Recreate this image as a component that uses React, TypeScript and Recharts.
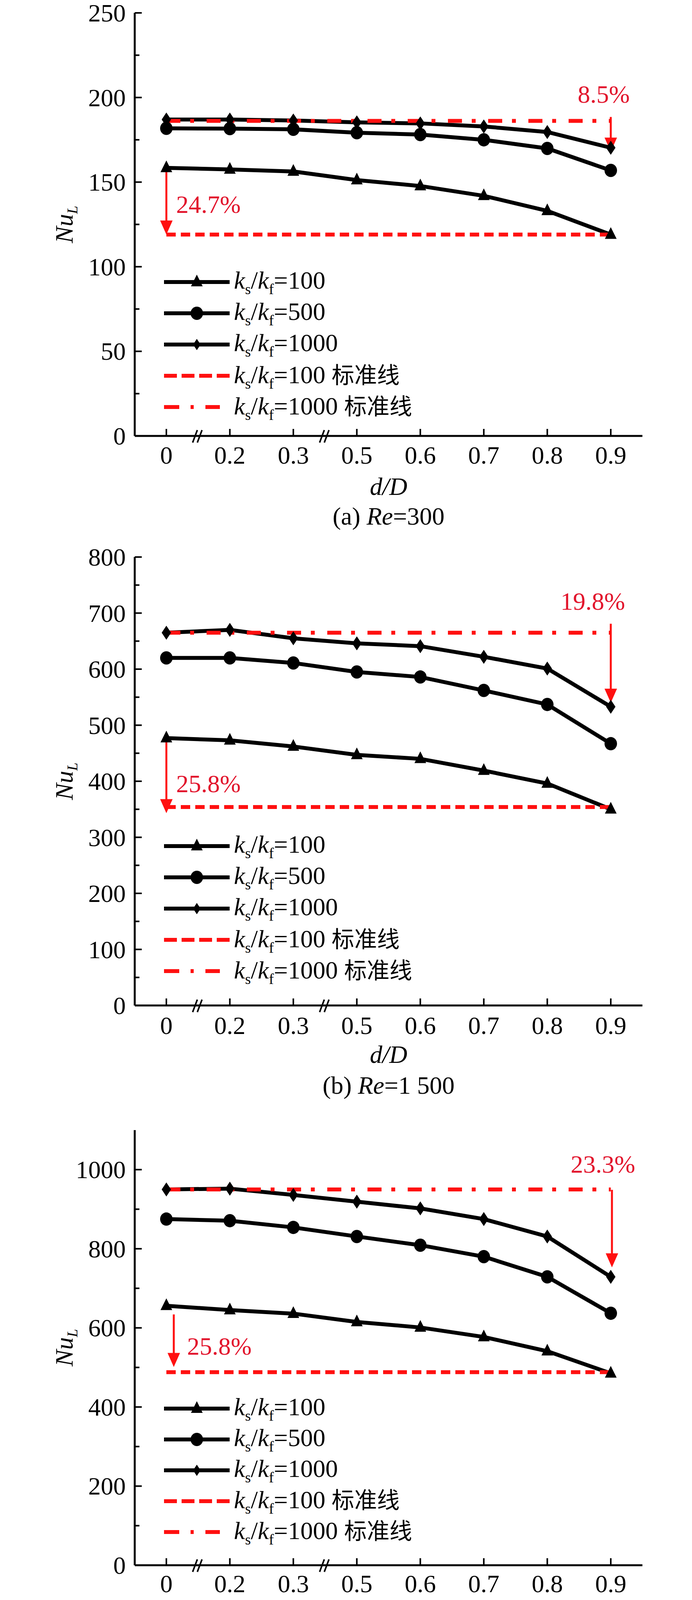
import React from 'react';
import { LineChart, Line, XAxis, YAxis, ReferenceLine, ReferenceDot, Legend } from 'recharts';

const SERIF = '"Liberation Serif", "Times New Roman", serif';
const CJK = '"Noto Sans CJK SC", sans-serif';
const RED = '#ff1010';
const RED_TEXT = '#e2142c';
const PAD = 81;
const BAND = 162.57;

const categories = ['0', '0.2', '0.3', '0.5', '0.6', '0.7', '0.8', '0.9'];
const breaksAfter = ['0', '0.3'];

// (a) Re=300
const k100A = [158.4, 157.5, 156.3, 151.2, 147.7, 141.9, 133.0, 119.0];
const k500A = [181.8, 181.6, 181.2, 179.2, 178.1, 175.0, 169.9, 156.9];
const k1000A = [187.0, 187.0, 186.4, 185.3, 184.7, 182.9, 179.6, 170.3];
const baseA = [119.0, 186.2];
const ticksA = [0, 25, 50, 75, 100, 125, 150, 175, 200, 225, 250];
const arrowsA = [{ x: '0', from: 158.4, to: 119 }, { x: '0.9', from: 188.5, to: 168 }];
const notesA = [{ x: '0', y: 137, text: '24.7%' }, { x: '0.9', y: 202, text: '8.5%' }];

// (b) Re=1 500
const k100B = [477, 473, 462, 447, 440, 419, 396, 350];
const k500B = [620, 620, 611, 595, 586, 562, 537, 467];
const k1000B = [665, 670, 655, 646, 641, 622, 601, 533];
const baseB = [354, 665];
const ticksB = [0, 50, 100, 150, 200, 250, 300, 350, 400, 450, 500, 550, 600, 650, 700, 750, 800];
const arrowsB = [{ x: '0', from: 477, to: 343 }, { x: '0.9', from: 681, to: 540 }];
const notesB = [{ x: '0', y: 396, text: '25.8%' }, { x: '0.9', y: 721, text: '19.8%' }];

// (c) Re=2 500
const k100C = [656, 645, 636, 615, 601, 577, 541, 485];
const k500C = [875, 871, 854, 831, 809, 780, 729, 637];
const k1000C = [950, 952, 936, 919, 902, 875, 831, 729];
const baseC = [488, 950];
const ticksC = [0, 100, 200, 300, 400, 500, 600, 700, 800, 900, 1000];
const arrowsC = [{ x: '0', from: 634, to: 501 }, { x: '0.9', from: 949, to: 753 }];
const notesC = [{ x: '0', y: 554, text: '25.8%' }, { x: '0.9', y: 1014, text: '23.3%' }];

const legendItems = [
  { kind: 'tri', text: '=100', cn: '' },
  { kind: 'circle', text: '=500', cn: '' },
  { kind: 'diamond', text: '=1000', cn: '' },
  { kind: 'dash', text: '=100 ', cn: '标准线' },
  { kind: 'dashdot', text: '=1000 ', cn: '标准线' },
];

const panels = [
  {
    height: 1400, top: 33, xAxisHeight: 284, yMax: 250, ticks: ticksA, major: 50,
    k100: k100A, k500: k500A, k1000: k1000A, base: baseA, arrows: arrowsA, notes: notesA,
    arrowDx: [0, 0], noteDx: [25, -18], noteAnchor: ['start', 'middle'],
    tickDy: 71, xLabelDy: 151, captionDy: 227, legendTop: 682, legendRow: 80,
    tag: '(a) ', re: '=300',
  },
  {
    height: 1450, top: 26, xAxisHeight: 276, yMax: 800, ticks: ticksB, major: 100,
    k100: k100B, k500: k500B, k1000: k1000B, base: baseB, arrows: arrowsB, notes: notesB,
    arrowDx: [0, 0], noteDx: [25, -46], noteAnchor: ['start', 'middle'],
    tickDy: 73, xLabelDy: 147, captionDy: 226, legendTop: 726, legendRow: 80,
    tag: '(b) ', re: '=1 500',
  },
  {
    height: 1404, top: 43, xAxisHeight: 247, yMax: 1100, ticks: ticksC, major: 200,
    k100: k100C, k500: k500C, k1000: k1000C, base: baseC, arrows: arrowsC, notes: notesC,
    arrowDx: [19, 3], noteDx: [53, -20], noteAnchor: ['start', 'middle'],
    tickDy: 69, xLabelDy: 141, captionDy: 202, legendTop: 716, legendRow: 79,
    tag: '(c) ', re: '=2 500',
  },
];

function Marker({ kind, cx, cy, scale = 1 }: any) {
  if (cx == null || cy == null) return null;
  const s = scale;
  if (kind === 'tri') {
    return <polygon points={`${cx},${cy - 19 * s} ${cx - 15 * s},${cy + 11 * s} ${cx + 15 * s},${cy + 11 * s}`} fill="#000" />;
  }
  if (kind === 'circle') {
    return <ellipse cx={cx} cy={cy} rx={16 * s} ry={17 * s} fill="#000" />;
  }
  return <polygon points={`${cx},${cy - 18 * s} ${cx + 12 * s},${cy} ${cx},${cy + 18 * s} ${cx - 12 * s},${cy}`} fill="#000" />;
}

function XTick(props: any) {
  const { x, y, payload, labelDy } = props;
  const brk = breaksAfter.includes(payload.value);
  const bx = x + BAND / 2;
  return (
    <g>
      <line x1={x} x2={x} y1={y} y2={y - 18} stroke="#000" strokeWidth={4} />
      <text x={x} y={y + labelDy} textAnchor="middle" fontFamily={SERIF} fontSize={64} fill="#000">
        {payload.value}
      </text>
      {brk && (
        <g stroke="#000" strokeWidth={4}>
          <line x1={bx - 14} y1={y + 17} x2={bx - 2} y2={y - 15} />
          <line x1={bx - 2} y1={y + 17} x2={bx + 10} y2={y - 15} />
        </g>
      )}
    </g>
  );
}

function YTick(props: any) {
  const { x, y, payload, major } = props;
  const v = payload.value;
  const isMajor = v % major === 0;
  return (
    <g>
      <line x1={x} x2={x + (isMajor ? 18 : 12)} y1={y} y2={y} stroke="#000" strokeWidth={4} />
      {isMajor && (
        <text x={x - 23} y={y + 22} textAnchor="end" fontFamily={SERIF} fontSize={64} fill="#000">
          {v}
        </text>
      )}
    </g>
  );
}

function YLabel({ cy }: any) {
  const x = 164;
  return (
    <text x={x} y={cy} transform={`rotate(-90 ${x} ${cy})`} textAnchor="middle" dy={22} fontFamily={SERIF} fontSize={64} fill="#000">
      <tspan fontStyle="italic">Nu</tspan>
      <tspan fontStyle="italic" fontSize={38} dy={12}>L</tspan>
    </text>
  );
}

function XLabels({ plotBottom, cfg }: any) {
  const cx = 995;
  return (
    <g fontFamily={SERIF} fontSize={64} fill="#000">
      <text x={cx} y={plotBottom + cfg.xLabelDy} textAnchor="middle" fontStyle="italic">d/D</text>
      <text x={cx} y={plotBottom + cfg.captionDy} textAnchor="middle">
        <tspan>{cfg.tag}</tspan>
        <tspan fontStyle="italic">Re</tspan>
        <tspan>{cfg.re}</tspan>
      </text>
    </g>
  );
}

function Arrow(props: any) {
  const { x1, y1, x2, y2, dx = 0 } = props;
  if ([x1, y1, x2, y2].some((v) => v == null || isNaN(v))) return null;
  const ax = x1 + dx;
  const head = 36;
  return (
    <g>
      <line x1={ax} y1={y1} x2={ax} y2={y2 - head + 4} stroke={RED} strokeWidth={5} />
      <polygon points={`${ax},${y2} ${ax - 16},${y2 - head} ${ax + 16},${y2 - head}`} fill={RED} />
    </g>
  );
}

function Note(props: any) {
  const { viewBox, text, dx, anchor } = props;
  if (!viewBox) return null;
  const cx = viewBox.x + (viewBox.width || 0) / 2;
  const cy = viewBox.y + (viewBox.height || 0) / 2;
  return (
    <text x={cx + dx} y={cy + 22} textAnchor={anchor} fontFamily={SERIF} fontSize={64} fill={RED_TEXT}>
      {text}
    </text>
  );
}

function LegendIcon({ kind }: any) {
  const cy = 40;
  if (kind === 'dash') {
    return <line x1={0} x2={168} y1={cy} y2={cy} stroke={RED} strokeWidth={10} strokeDasharray="33 12" />;
  }
  if (kind === 'dashdot') {
    return <line x1={0} x2={143} y1={cy} y2={cy} stroke={RED} strokeWidth={10} strokeDasharray="39 29 8 30" />;
  }
  return (
    <g>
      <line x1={0} x2={168} y1={cy} y2={cy} stroke="#000" strokeWidth={10} />
      <Marker kind={kind} cx={84} cy={cy} scale={kind === 'diamond' ? 0.8 : 1} />
    </g>
  );
}

function LegendBox({ rowH }: any) {
  const sub = { fontSize: 38, position: 'relative' as const, top: 14, fontStyle: 'normal' };
  return (
    <div style={{ fontFamily: SERIF, fontSize: 64, color: '#000' }}>
      {legendItems.map((it) => (
        <div key={it.kind} style={{ height: rowH, display: 'flex', alignItems: 'center', whiteSpace: 'nowrap' }}>
          <svg width={179} height={80} style={{ flex: 'none' }}>
            <LegendIcon kind={it.kind} />
          </svg>
          <span style={{ lineHeight: `${rowH}px` }}>
            <i>k</i><span style={sub}>s</span>/<i>k</i><span style={sub}>f</span>{it.text}
            {it.cn && <span style={{ fontFamily: CJK, fontSize: 58 }}>{it.cn}</span>}
          </span>
        </div>
      ))}
    </div>
  );
}

function Panel({ cfg }: any) {
  const rows = categories.map((d, i) => ({ d, k100: cfg.k100[i], k500: cfg.k500[i], k1000: cfg.k1000[i] }));
  const plotBottom = cfg.height - cfg.xAxisHeight;
  const axisLine = { stroke: '#000', strokeWidth: 5 };
  const first = categories[0];
  const last = categories[categories.length - 1];
  return (
    <LineChart width={1772} height={cfg.height} data={rows} margin={{ top: cfg.top, right: 127, bottom: 0, left: 0 }}>
      <XAxis
        dataKey="d"
        height={cfg.xAxisHeight}
        padding={{ left: PAD, right: PAD }}
        interval={0}
        tickSize={0}
        tickMargin={0}
        tickLine={false}
        axisLine={axisLine}
        tick={<XTick labelDy={cfg.tickDy} />}
        label={<XLabels cfg={cfg} plotBottom={plotBottom} />}
      />
      <XAxis xAxisId="top" orientation="top" dataKey="d" height={0} padding={{ left: PAD, right: PAD }} tick={false} tickLine={false} axisLine={axisLine} />
      <YAxis
        type="number"
        domain={[0, cfg.yMax]}
        ticks={cfg.ticks}
        interval={0}
        width={345}
        tickSize={0}
        tickMargin={0}
        tickLine={false}
        axisLine={axisLine}
        tick={<YTick major={cfg.major} />}
        label={<YLabel cy={(cfg.top + plotBottom) / 2} />}
      />
      <YAxis yAxisId="right" orientation="right" width={0} domain={[0, cfg.yMax]} tick={false} tickLine={false} axisLine={axisLine} />

      <Line dataKey="k100" stroke="#000" strokeWidth={10} isAnimationActive={false}
        dot={(p: any) => <Marker key={`t${p.index}`} kind="tri" cx={p.cx} cy={p.cy} />} />
      <Line dataKey="k500" stroke="#000" strokeWidth={10} isAnimationActive={false}
        dot={(p: any) => <Marker key={`c${p.index}`} kind="circle" cx={p.cx} cy={p.cy} />} />
      <Line dataKey="k1000" stroke="#000" strokeWidth={10} isAnimationActive={false}
        dot={(p: any) => <Marker key={`d${p.index}`} kind="diamond" cx={p.cx} cy={p.cy} />} />

      <ReferenceLine segment={[{ x: first, y: cfg.base[0] }, { x: last, y: cfg.base[0] }]} stroke={RED} strokeWidth={10} strokeDasharray="24 13" />
      <ReferenceLine segment={[{ x: first, y: cfg.base[1] }, { x: last, y: cfg.base[1] }]} stroke={RED} strokeWidth={10} strokeDasharray="36 25 10 32" />

      {cfg.arrows.map((a: any, i: number) => (
        <ReferenceLine
          key={`ar${i}`}
          segment={[{ x: a.x, y: a.from }, { x: a.x, y: a.to }]}
          shape={(p: any) => <Arrow {...p} dx={cfg.arrowDx[i]} />}
        />
      ))}
      {cfg.notes.map((n: any, i: number) => (
        <ReferenceDot
          key={`nt${i}`}
          x={n.x}
          y={n.y}
          r={0}
          fill="none"
          stroke="none"
          label={<Note text={n.text} dx={cfg.noteDx[i]} anchor={cfg.noteAnchor[i]} />}
        />
      ))}

      <Legend
        content={<LegendBox rowH={cfg.legendRow} />}
        layout="horizontal"
        verticalAlign="middle"
        align="center"
        wrapperStyle={{ left: 420, top: cfg.legendTop, width: 800 }}
      />
    </LineChart>
  );
}

export default function App() {
  return (
    <div style={{ width: 1772, background: '#fff' }}>
      <style>{'body{margin:0;background:#fff} svg{overflow:visible}'}</style>
      {panels.map((cfg, i) => (
        <Panel key={i} cfg={cfg} />
      ))}
    </div>
  );
}
